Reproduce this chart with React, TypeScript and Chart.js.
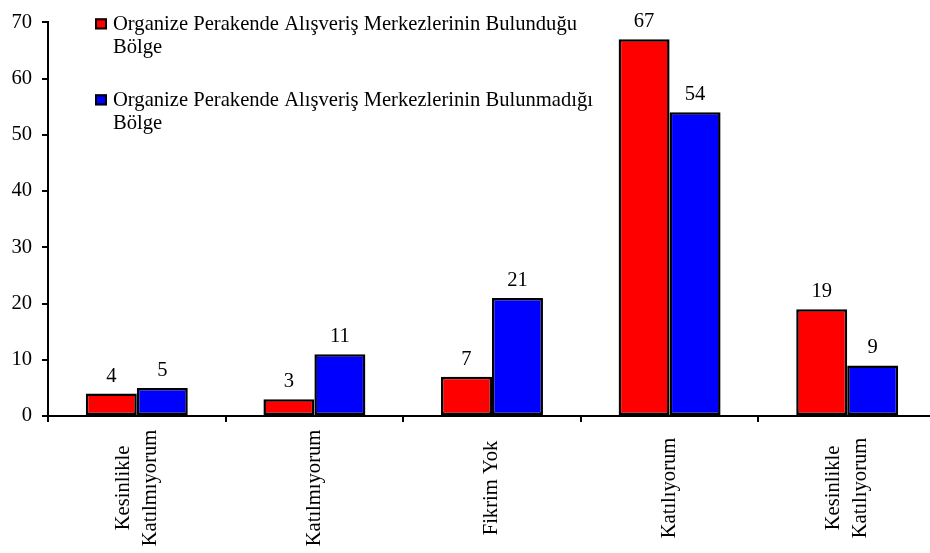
import React, { useEffect, useRef } from "react";
import { Chart, registerables } from "chart.js";

Chart.register(...registerables);

const categories: string[][] = [
  ["Kesinlikle", "Katılmıyorum"],
  ["Katılmıyorum"],
  ["Fikrim Yok"],
  ["Katılıyorum"],
  ["Kesinlikle", "Katılıyorum"],
];

const seriesLabels: string[][] = [
  ["Organize Perakende Alışveriş Merkezlerinin Bulunduğu", "Bölge"],
  ["Organize Perakende Alışveriş Merkezlerinin Bulunmadığı", "Bölge"],
];

const bulundugu = [4, 3, 7, 67, 19];
const bulunmadigi = [5, 11, 21, 54, 9];

const yMin = 0;
const yMax = 70;
const yStep = 10;

const seriesColors = ["#FF0000", "#0000FF"];

const FONT = "'Liberation Serif', 'Times New Roman', serif";
const FONT_SIZE = 20.6;

const labelsPlugin = {
  id: "customLabels",
  afterDraw(chart: any) {
    const ctx = chart.ctx;
    const area = chart.chartArea;
    ctx.save();
    ctx.fillStyle = "#000";
    ctx.font = `${FONT_SIZE}px ${FONT}`;

    // data labels
    chart.data.datasets.forEach((ds: any, di: number) => {
      const meta = chart.getDatasetMeta(di);
      meta.data.forEach((bar: any, i: number) => {
        ctx.textAlign = "center";
        ctx.textBaseline = "alphabetic";
        ctx.fillText(String(ds.data[i]), bar.x, bar.y - 12);
      });
    });

    // category labels (rotated, centered lines)
    const xs = chart.scales.x;
    categories.forEach((lines, i) => {
      const px = xs.getPixelForValue(i);
      ctx.save();
      ctx.translate(px, xs.top + 72);
      ctx.rotate(-Math.PI / 2);
      ctx.textAlign = "center";
      ctx.textBaseline = "middle";
      const lh = 27;
      lines.forEach((t, j) => {
        ctx.fillText(t, 0, (j - (lines.length - 1) / 2) * lh);
      });
      ctx.restore();
    });

    // legend
    seriesLabels.forEach((lines, i) => {
      const bx = area.left + 47;
      const by = area.top - 4 + i * 76;
      ctx.fillStyle = seriesColors[i];
      ctx.fillRect(bx, by, 12, 11);
      ctx.strokeStyle = "#000";
      ctx.lineWidth = 2;
      ctx.strokeRect(bx + 1, by + 1, 10, 9);
      ctx.fillStyle = "#000";
      ctx.textAlign = "left";
      ctx.textBaseline = "alphabetic";
      lines.forEach((t, j) => {
        ctx.fillText(t, bx + 18, by + 12 + j * 23);
      });
    });
    ctx.restore();
  },
};

export default function App() {
  const ref = useRef<HTMLCanvasElement | null>(null);

  useEffect(() => {
    if (!ref.current) return;
    const chart = new Chart(ref.current, {
      type: "bar",
      data: {
        labels: categories.map((c) => c.join(" ")),
        datasets: [
          {
            label: seriesLabels[0].join(" "),
            data: bulundugu,
            backgroundColor: seriesColors[0],
            borderColor: "#000",
            borderWidth: 2.5,
            borderSkipped: false,
            barPercentage: 1,
            categoryPercentage: 0.574,
          },
          {
            label: seriesLabels[1].join(" "),
            data: bulunmadigi,
            backgroundColor: seriesColors[1],
            borderColor: "#000",
            borderWidth: 2.5,
            borderSkipped: false,
            barPercentage: 1,
            categoryPercentage: 0.574,
          },
        ],
      },
      plugins: [labelsPlugin],
      options: {
        animation: false,
        responsive: false,
        maintainAspectRatio: false,
        layout: { padding: { top: 2, right: 1, left: 0, bottom: 0 } },
        plugins: {
          legend: { display: false },
          tooltip: { enabled: false },
        },
        scales: {
          x: {
            grid: {
              drawOnChartArea: false,
              drawTicks: true,
              tickLength: 6,
              color: "#000",
              lineWidth: 2,
              offset: true,
            },
            border: { display: true, color: "#000", width: 2 },
            ticks: { display: false },
            afterFit: (scale: any) => {
              scale.height = 137;
            },
          },
          y: {
            min: yMin,
            max: yMax,
            grid: {
              drawOnChartArea: false,
              drawTicks: true,
              tickLength: 6,
              color: "#000",
              lineWidth: 2,
            },
            border: { display: true, color: "#000", width: 2 },
            ticks: {
              stepSize: yStep,
              color: "#000",
              padding: 10,
              font: { family: FONT, size: FONT_SIZE },
            },
            afterFit: (scale: any) => {
              scale.width = 48;
            },
          },
        },
      },
    });
    return () => chart.destroy();
  }, []);

  return (
    <div
      style={{
        position: "fixed",
        left: 0,
        top: 0,
        width: 930,
        height: 553,
        overflow: "hidden",
        background: "#fff",
      }}
    >
      <canvas ref={ref} width={937} height={553} style={{ display: "block" }} />
    </div>
  );
}
